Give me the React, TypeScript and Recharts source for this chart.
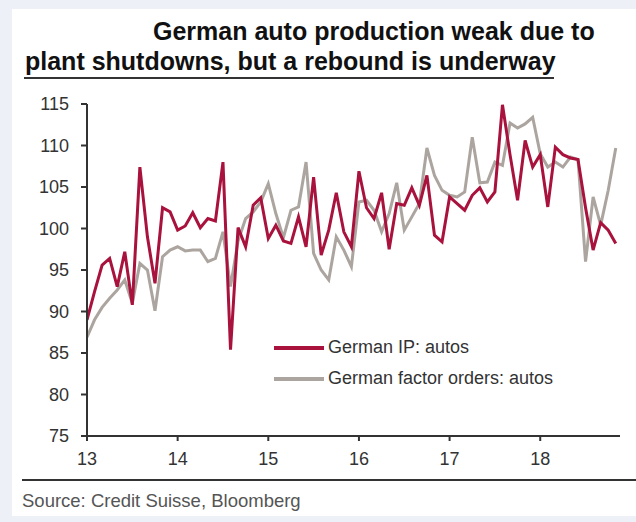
import { Line, LineChart, XAxis, YAxis } from 'recharts';

// monthly, Jan 2013 .. Nov 2018
const ipAutos = [
  89.0, 92.4, 95.6, 96.4, 93.0, 97.2, 90.8, 107.4, 99.0, 93.4, 102.5, 102.0,
  99.8, 100.3, 101.9, 100.1, 101.2, 100.9, 108.0, 85.4, 100.1, 97.8, 102.8, 103.7,
  98.8, 100.4, 98.5, 98.2, 101.4, 97.8, 106.2, 96.8, 99.8, 104.3, 99.6, 97.8,
  106.9, 102.5, 101.2, 104.3, 97.5, 103.0, 102.8, 104.9, 102.8, 106.4, 99.2, 98.4,
  103.8, 103.0, 102.2, 104.0, 104.9, 103.2, 104.4, 114.9, 108.9, 103.4, 110.6, 107.4,
  108.9, 102.6, 109.8, 108.9, 108.5, 108.3, 102.5, 97.4, 100.7, 99.8, 98.2,
];

const factorOrders = [
  86.9, 89.0, 90.5, 91.6, 92.6, 93.8, 91.0, 95.8, 95.0, 90.1, 96.6, 97.4,
  97.8, 97.3, 97.4, 97.4, 96.0, 96.4, 99.6, 93.0, 98.5, 101.2, 102.0, 103.2,
  105.4, 101.8, 98.9, 102.2, 102.6, 108.0, 97.0, 95.0, 93.8, 99.0, 97.4, 95.4,
  103.2, 103.4, 102.2, 99.6, 101.8, 105.5, 99.8, 101.4, 103.0, 109.7, 106.4, 104.6,
  104.0, 103.8, 104.4, 111.0, 105.5, 105.6, 108.0, 107.6, 112.7, 112.1, 112.6, 113.4,
  109.0, 107.4, 108.0, 107.4, 108.6, 108.3, 96.0, 103.8, 100.4, 104.6, 109.7,
];

const startYear = 13;
const yearTicks = [13, 14, 15, 16, 17, 18];
const valueTicks = [75, 80, 85, 90, 95, 100, 105, 110, 115];

const RED = '#a8123c';
const GREY = '#aca59f';
const FONT = '"Liberation Sans", Arial, sans-serif';

const rows = ipAutos.map((ip, i) => ({
  t: startYear + i / 12,
  ip,
  orders: factorOrders[i],
}));

const legendItems = [
  { label: 'German IP: autos', color: RED },
  { label: 'German factor orders: autos', color: GREY },
];

export default function App() {
  const titleStyle = {
    position: 'absolute' as const,
    fontFamily: FONT,
    fontWeight: 'bold' as const,
    fontSize: 25,
    color: '#111',
    whiteSpace: 'nowrap' as const,
  };
  return (
    <div
      style={{
        position: 'absolute',
        left: 0,
        top: 0,
        width: 636,
        height: 522,
        background: '#edf1f7',
        overflow: 'hidden',
      }}
    >
      <div style={{ position: 'absolute', left: 12, top: 9, width: 624, height: 507, background: '#fff' }} />
      <div style={{ ...titleStyle, left: 153, top: 17 }}>German auto production weak due to</div>
      <div style={{ ...titleStyle, left: 25, top: 47 }}>plant shutdowns, but a rebound is underway</div>
      <div style={{ position: 'absolute', left: 24, top: 77, width: 530, height: 2, background: '#333' }} />

      <div style={{ position: 'absolute', left: 0, top: 0 }}>
        <LineChart width={636} height={522} data={rows} margin={{ top: 104, right: 16, bottom: 46, left: 27 }}>
          <XAxis
            dataKey="t"
            type="number"
            domain={[13, 18.88]}
            allowDataOverflow
            ticks={yearTicks}
            height={40}
            stroke="#333"
            strokeWidth={2}
            tickSize={5}
            tickMargin={11}
            tick={{ fill: '#333', fontSize: 18, fontFamily: FONT }}
          />
          <YAxis
            type="number"
            domain={[75, 115]}
            ticks={valueTicks}
            width={60}
            stroke="#333"
            strokeWidth={2}
            tickSize={6}
            tickMargin={12}
            tick={{ fill: '#333', fontSize: 18, fontFamily: FONT }}
          />
          <Line
            dataKey="orders"
            name="German factor orders: autos"
            stroke={GREY}
            strokeWidth={3}
            dot={false}
            isAnimationActive={false}
          />
          <Line
            dataKey="ip"
            name="German IP: autos"
            stroke={RED}
            strokeWidth={3}
            dot={false}
            isAnimationActive={false}
          />
        </LineChart>
      </div>

      <div style={{ position: 'absolute', left: 274, top: 332, fontFamily: FONT, fontSize: 18, color: '#333' }}>
        {legendItems.map((it) => (
          <div key={it.label} style={{ display: 'flex', alignItems: 'center', height: 31, whiteSpace: 'nowrap' }}>
            <span style={{ display: 'inline-block', width: 50, height: 4, background: it.color, marginRight: 4 }} />
            {it.label}
          </div>
        ))}
      </div>

      <div style={{ position: 'absolute', left: 22, top: 479, width: 614, height: 2, background: '#333' }} />
      <div
        style={{
          position: 'absolute',
          left: 22,
          top: 490,
          fontFamily: FONT,
          fontSize: 18.5,
          color: '#555',
          whiteSpace: 'nowrap',
        }}
      >
        Source: Credit Suisse, Bloomberg
      </div>
    </div>
  );
}
